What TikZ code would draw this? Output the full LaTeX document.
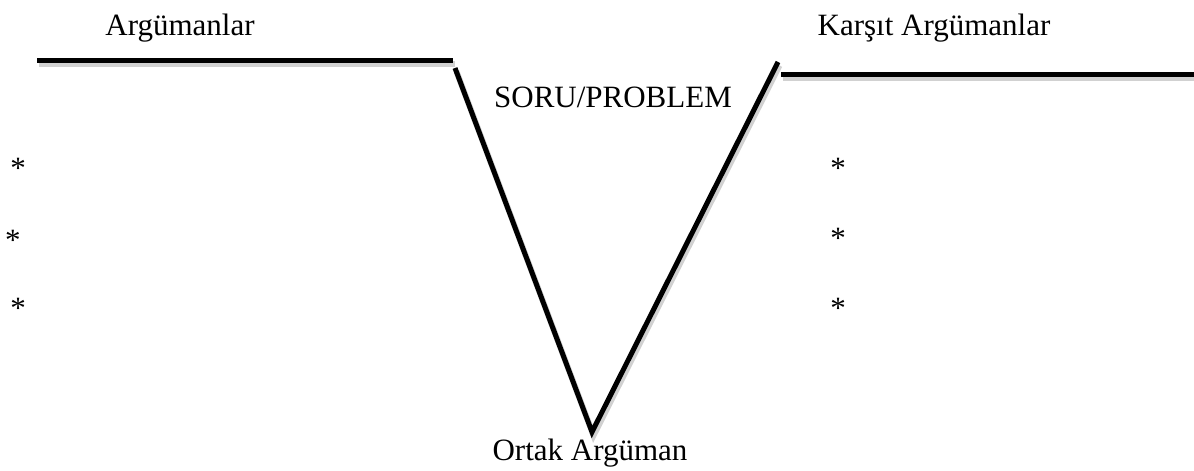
\documentclass[tikz,border=0pt]{standalone}
\usepackage{fontspec}
\setmainfont{Liberation Serif}
\usepackage{tikz}
\usetikzlibrary{positioning}

\begin{document}
\begin{tikzpicture}[
		x=1pt,
		y=-1pt,
		thick,
		main node/.style={font=\fontsize{31}{37}\selectfont, inner sep=0pt, anchor=base},
		star node/.style={main node},
		bar/.style={line width=5pt, black,
			preaction={draw=black!18, line width=6pt, transform canvas={shift={(1.5pt,-3.5pt)}}}}
		]
		
		\useasboundingbox (0,0) rectangle (1194,471);
		
		% outline
		\coordinate (l1) at (37,60);
		\coordinate (l2) at (453,60);
		\coordinate (v1) at (455,68);
		\coordinate (tip) at (592,432);
		\coordinate (v2) at (778,62);
		\coordinate (r1) at (781,74);
		\coordinate (r2) at (1194,74);
		
		\draw[bar] (l1) -- (l2);
		\draw[bar, line join=miter] (v1) -- (tip) -- (v2);
		\draw[bar] (r1) -- (r2);
		
		% labels
		\node[main node] (pro) at (180,35) {Argümanlar};
		\node[main node] (con) at (934,35) {Karşıt Argümanlar};
		\node[main node] (q) at (613,107) {SORU/PROBLEM};
		\node[main node] (common) at (590,460) {Ortak Argüman};
		
		% bullets
		\node[star node] (s1) at (18,178) {*};
		\node[star node] (s2) at (13,250) {*};
		\node[star node] (s3) at (18,318) {*};
		\node[star node] (t1) at (838,178) {*};
		\node[star node] (t2) at (838,248) {*};
		\node[star node] (t3) at (838,318) {*};
	\end{tikzpicture}
\end{document}
